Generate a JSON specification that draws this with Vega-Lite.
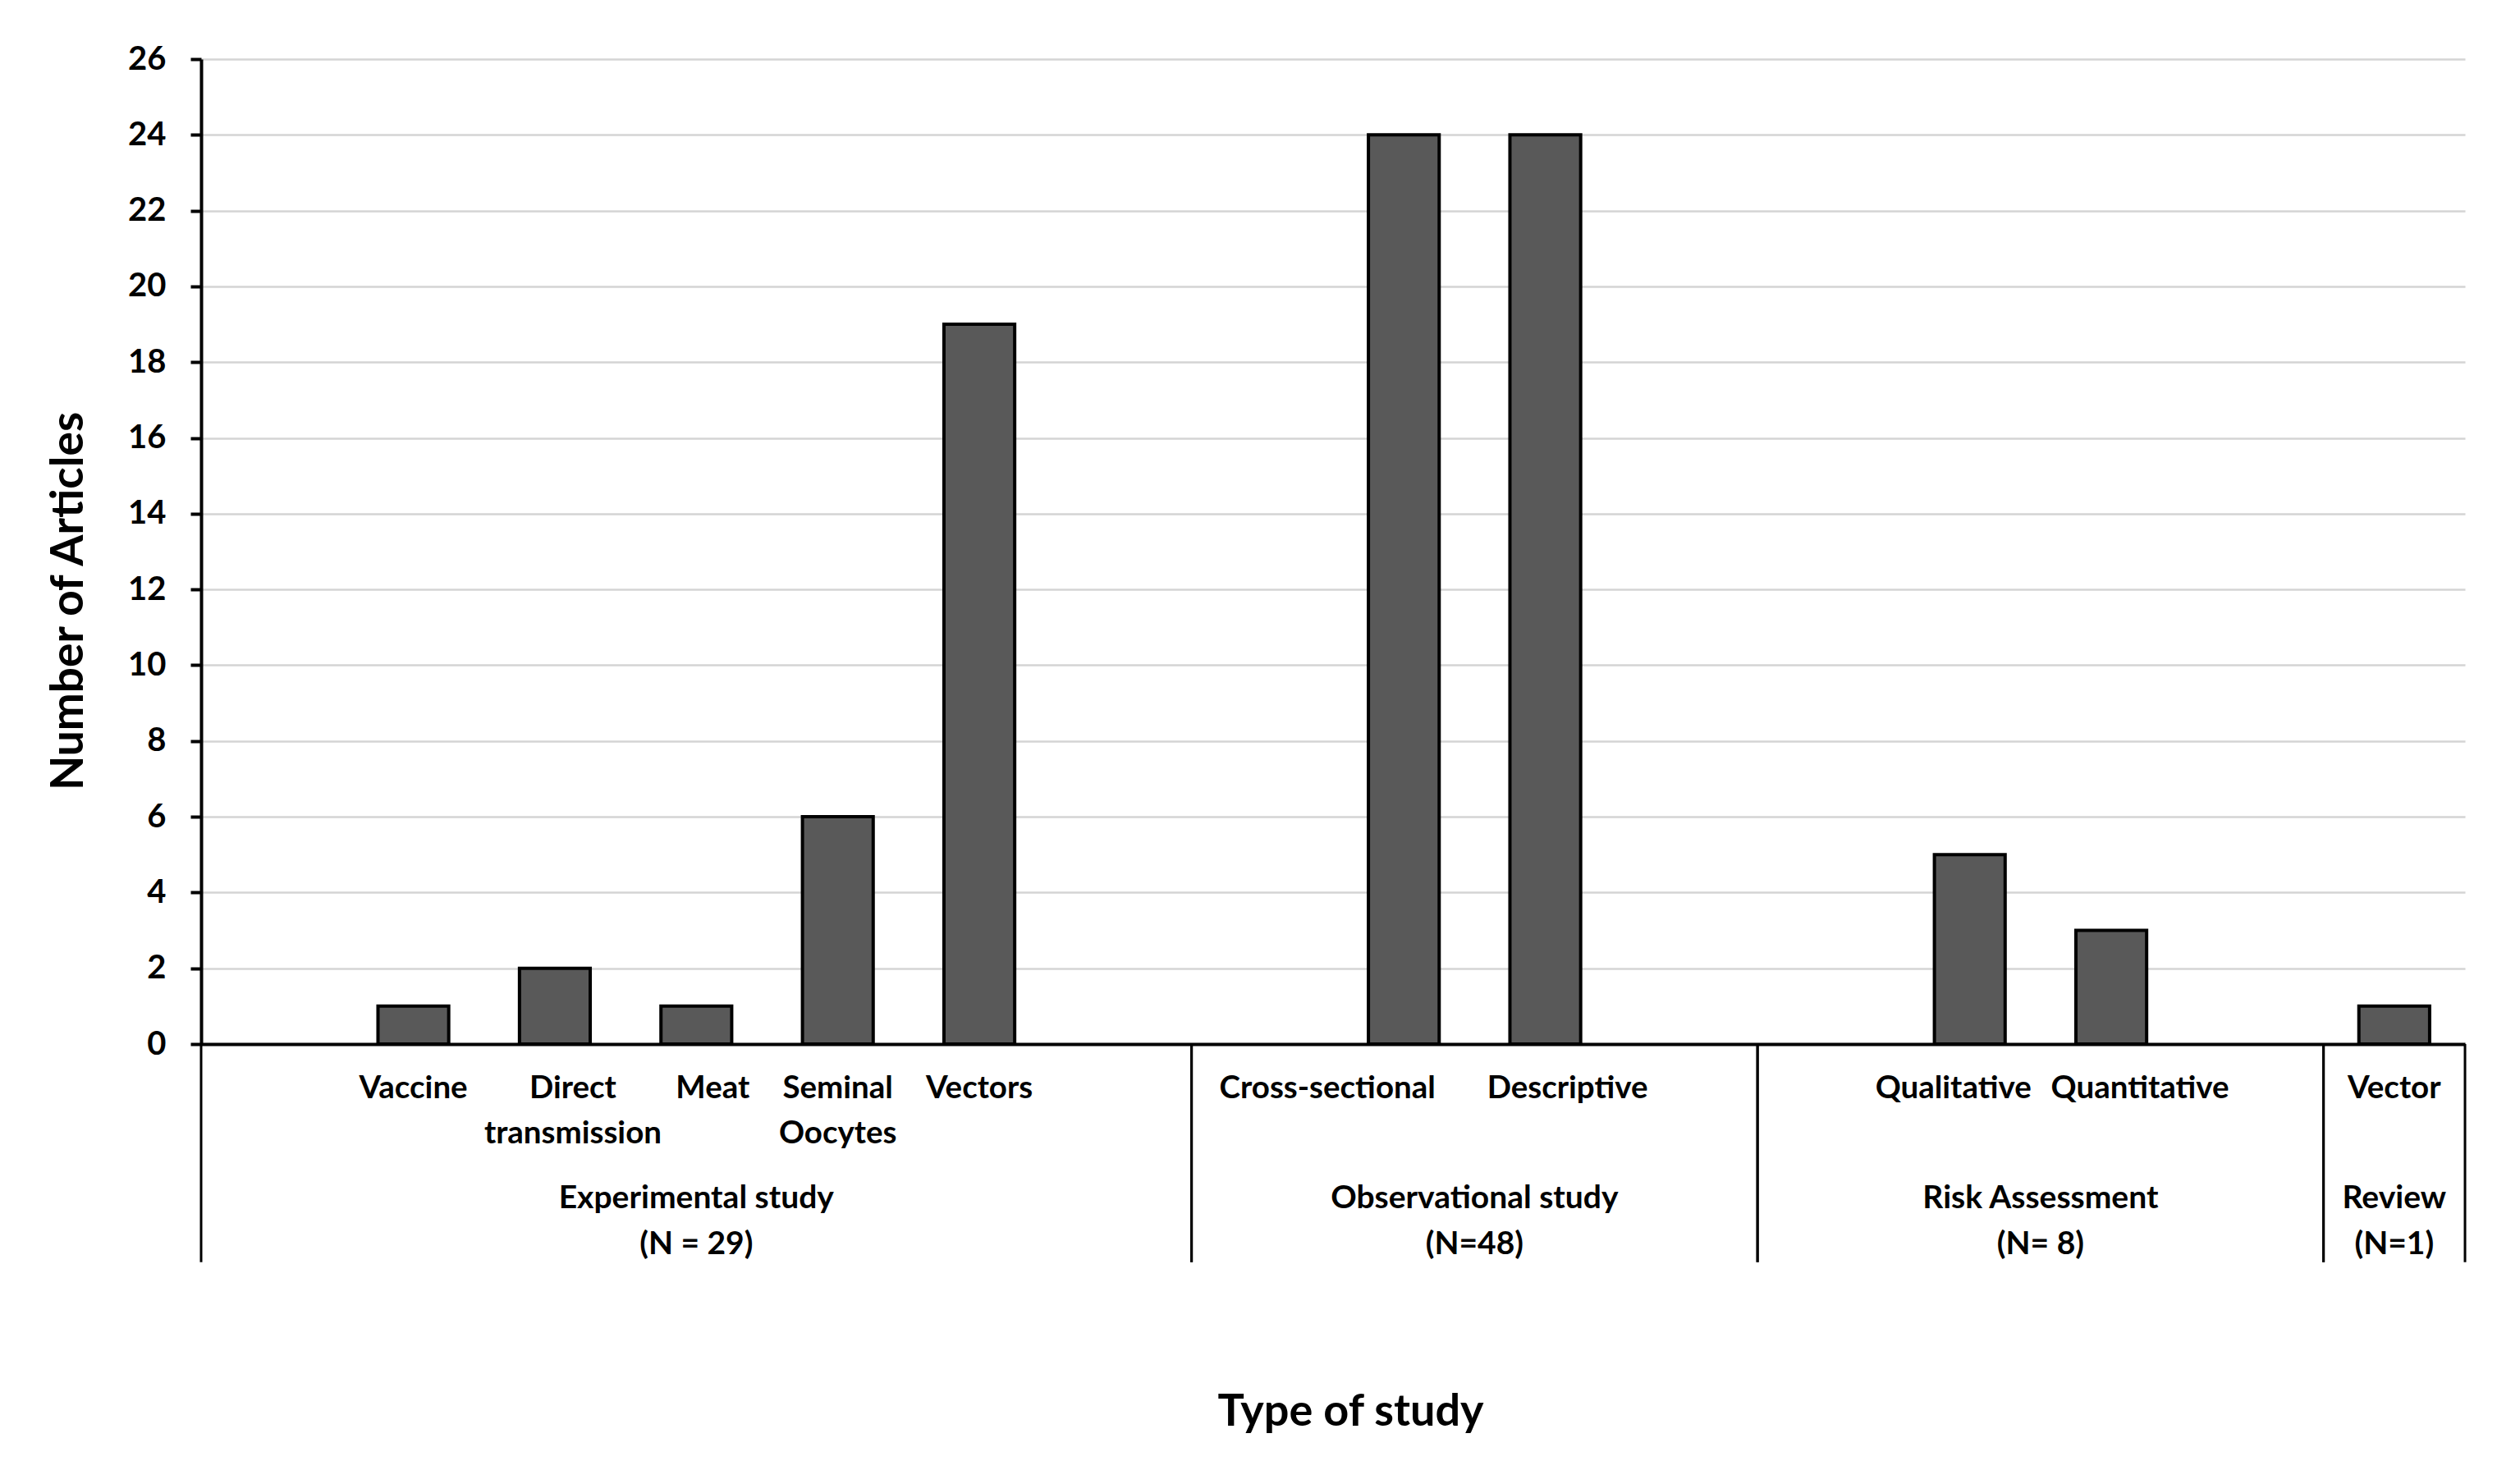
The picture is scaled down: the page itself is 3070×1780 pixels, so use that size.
{
  "$schema": "https://vega.github.io/schema/vega-lite/v6.json",
  "width": 2758,
  "height": 1200,
  "autosize": {"type": "none"},
  "padding": {"left": 245, "top": 72, "right": 67, "bottom": 508},
  "background": "white",
  "config": {"font": "Lato", "view": {"stroke": null}},
  "datasets": {
    "articles": [
      {"study": "Vaccine", "group": "Experimental study", "articles": 1},
      {"study": "Direct transmission", "group": "Experimental study", "articles": 2},
      {"study": "Meat", "group": "Experimental study", "articles": 1},
      {"study": "Seminal Oocytes", "group": "Experimental study", "articles": 6},
      {"study": "Vectors", "group": "Experimental study", "articles": 19},
      {"study": "Cross-sectional", "group": "Observational study", "articles": 24},
      {"study": "Descriptive", "group": "Observational study", "articles": 24},
      {"study": "Qualitative", "group": "Risk Assessment", "articles": 5},
      {"study": "Quantitative", "group": "Risk Assessment", "articles": 3},
      {"study": "Vector", "group": "Review", "articles": 1}
    ],
    "groups": [
      {"group": "Experimental study\n(N = 29)", "first": 0, "last": 7},
      {"group": "Observational study\n(N=48)", "first": 7, "last": 11},
      {"group": "Risk Assessment\n(N= 8)", "first": 11, "last": 15},
      {"group": "Review\n(N=1)", "first": 15, "last": 16}
    ]
  },
  "layer": [
    {
      "data": {"name": "articles"},
      "mark": {"type": "bar", "fill": "#595959", "stroke": "#000000", "strokeWidth": 4},
      "encoding": {
        "x": {
          "field": "study",
          "type": "nominal",
          "sort": null,
          "scale": {
            "domain": ["gap1", "Vaccine", "Direct transmission", "Meat", "Seminal Oocytes", "Vectors", "gap2", "gap3", "Cross-sectional", "Descriptive", "gap4", "gap5", "Qualitative", "Quantitative", "gap6", "Vector"],
            "paddingInner": 0.5,
            "paddingOuter": 0.25
          },
          "axis": {
            "title": "Type of study",
            "titleFont": "Lato",
            "titleFontSize": 54,
            "titleFontWeight": "bold",
            "titleColor": "#000000",
            "titleX": 1400,
            "titleY": 464,
            "titleAlign": "center",
            "titleBaseline": "alphabetic",
            "labelExpr": "indexof(datum.label, 'gap') == 0 ? '' : split(datum.label, ' ')",
            "labelFont": "Lato",
            "labelFontSize": 38.5,
            "labelFontWeight": "bold",
            "labelColor": "#000000",
            "labelAngle": 0,
            "labelBaseline": "top",
            "labelLineHeight": 55,
            "labelPadding": 35,
            "labelLimit": 0,
            "labelOverlap": false,
            "labelOffset": {
              "condition": [
                {"test": "datum.value === 'Direct transmission'", "value": 22},
                {"test": "datum.value === 'Meat'", "value": 20},
                {"test": "datum.value === 'Cross-sectional'", "value": -93},
                {"test": "datum.value === 'Descriptive'", "value": 27},
                {"test": "datum.value === 'Qualitative'", "value": -20},
                {"test": "datum.value === 'Quantitative'", "value": 35}
              ],
              "value": 0
            },
            "ticks": false,
            "tickSize": 0,
            "grid": false,
            "domain": true,
            "domainColor": "#000000",
            "domainWidth": 4
          }
        },
        "y": {
          "field": "articles",
          "type": "quantitative",
          "scale": {"domain": [0, 26], "nice": false},
          "axis": {
            "title": "Number of Articles",
            "titleFont": "Lato",
            "titleFontSize": 55,
            "titleFontWeight": "bold",
            "titleColor": "#000000",
            "titleAngle": 270,
            "titleX": -145,
            "titleY": 660,
            "titleAlign": "center",
            "titleBaseline": "alphabetic",
            "values": [0, 2, 4, 6, 8, 10, 12, 14, 16, 18, 20, 22, 24, 26],
            "labelFont": "Lato",
            "labelFontSize": 40,
            "labelFontWeight": "bold",
            "labelColor": "#000000",
            "labelPadding": 30,
            "labelFlush": false,
            "labelOverlap": false,
            "ticks": true,
            "tickSize": 13,
            "tickWidth": 4,
            "tickColor": "#000000",
            "domain": true,
            "domainColor": "#000000",
            "domainWidth": 4,
            "grid": true,
            "gridColor": "#d4d4d4",
            "gridWidth": 2.5
          }
        }
      }
    },
    {
      "data": {"name": "groups"},
      "layer": [
        {
          "mark": {"type": "rule", "stroke": "#000000", "strokeWidth": 3},
          "encoding": {
            "x": {"field": "first", "type": "quantitative", "scale": {"domain": [0, 16], "nice": false, "zero": false}, "axis": null},
            "y": {"datum": 0, "type": "quantitative", "scale": {"domain": [0, 26], "nice": false}},
            "y2": {"datum": -5.76}
          }
        },
        {
          "mark": {"type": "rule", "stroke": "#000000", "strokeWidth": 3},
          "encoding": {
            "x": {"field": "last", "type": "quantitative", "scale": {"domain": [0, 16], "nice": false, "zero": false}, "axis": null},
            "y": {"datum": 0, "type": "quantitative", "scale": {"domain": [0, 26], "nice": false}},
            "y2": {"datum": -5.76}
          }
        },
        {
          "transform": [{"calculate": "(datum.first + datum.last) / 2", "as": "middle"}],
          "mark": {"type": "text", "align": "center", "baseline": "top", "lineBreak": "\n", "lineHeight": 56, "font": "Lato", "fontSize": 39, "fontWeight": "bold", "color": "#000000"},
          "encoding": {
            "x": {"field": "middle", "type": "quantitative", "scale": {"domain": [0, 16], "nice": false, "zero": false}, "axis": null},
            "y": {"datum": -3.66, "type": "quantitative", "scale": {"domain": [0, 26], "nice": false}},
            "text": {"field": "group"}
          }
        }
      ]
    }
  ],
  "resolve": {"scale": {"x": "independent"}}
}
